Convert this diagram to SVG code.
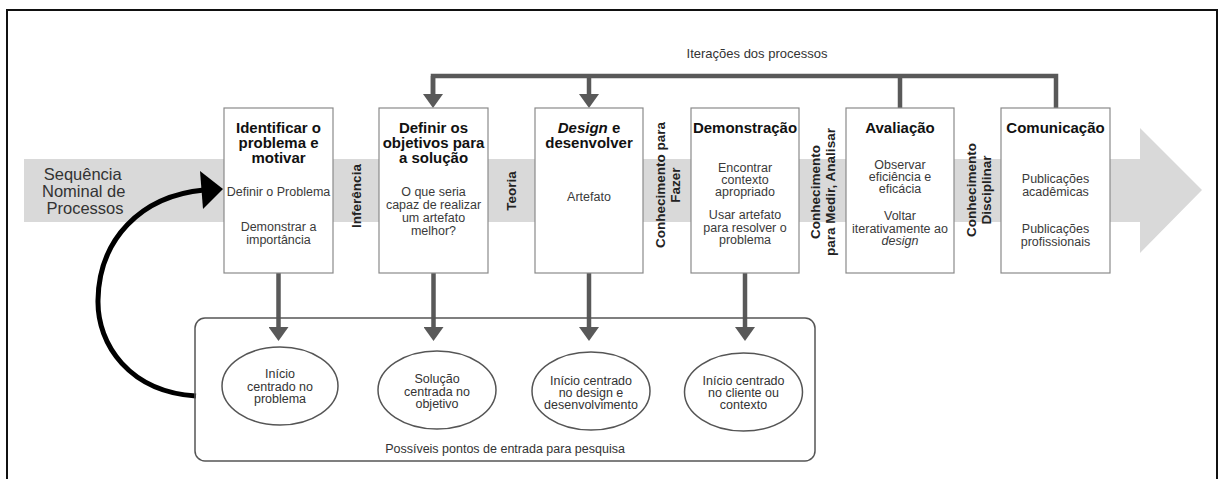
<svg xmlns="http://www.w3.org/2000/svg" width="1219" height="479" viewBox="0 0 1219 479">
  <style>
    text { font-family: "Liberation Sans", Arial, sans-serif; }
    .title { font-size: 15px; font-weight: bold; fill: #111; text-anchor: middle; }
    .body { font-size: 12.5px; fill: #3a3a3a; text-anchor: middle; }
    .side { font-size: 13.5px; font-weight: bold; fill: #222; text-anchor: middle; }
    .oval { font-size: 12.5px; fill: #333; text-anchor: middle; }
    .box { fill: #fff; stroke: #8a8a8a; stroke-width: 1.2; }
    .ell { fill: #fff; stroke: #555; stroke-width: 1.5; }
    .flow { fill: none; stroke: #595959; stroke-width: 4.5; }
  </style>
  <defs>
    <marker id="head" markerUnits="userSpaceOnUse" viewBox="0 0 14 20" refX="2" refY="10" markerWidth="14" markerHeight="20" orient="auto">
      <path d="M0,0 L14,10 L0,20 Z" fill="#595959"/>
    </marker>
  </defs>

  <!-- outer frame -->
  <rect x="7" y="10" width="1210" height="490" fill="none" stroke="#111" stroke-width="2"/>

  <!-- nominal process sequence band -->
  <g id="sequence">
    <path d="M24,159 H1140 V128 L1202,190 L1140,253 V222 H24 Z" fill="#d9d9d9"/>
    <text font-size="16.5" fill="#333" text-anchor="middle">
      <tspan x="85" y="180">Sequência</tspan>
      <tspan x="86" y="197">Nominal de</tspan>
      <tspan x="85" y="214">Processos</tspan>
    </text>
  </g>

  <!-- knowledge labels between activities -->
  <g id="side-labels">
    <text class="side" transform="translate(361,196) rotate(-90)">Inferência</text>
    <text class="side" transform="translate(516,191) rotate(-90)">Teoria</text>
    <text class="side" transform="translate(667,185) rotate(-90)"><tspan x="0" y="-2">Conhecimento para</tspan><tspan x="0" y="13">Fazer</tspan></text>
    <text class="side" transform="translate(822,192) rotate(-90)"><tspan x="0" y="-2">Conhecimento</tspan><tspan x="0" y="13">para Medir, Analisar</tspan></text>
    <text class="side" transform="translate(978,190) rotate(-90)"><tspan x="0" y="-2">Conhecimento</tspan><tspan x="0" y="13">Disciplinar</tspan></text>
  </g>

  <!-- connectors -->
  <g id="connectors">
    <text x="757" y="58" font-size="13" fill="#333" text-anchor="middle">Iterações dos processos</text>
    <path class="flow" d="M433,96 V76 H1056 V108 M900,76 V108"/>
    <path class="flow" d="M433,76 V96" marker-end="url(#head)"/>
    <path class="flow" d="M589,76 V96" marker-end="url(#head)"/>
    <path class="flow" d="M278.5,254 V329" marker-end="url(#head)"/>
    <path class="flow" d="M433.5,254 V329" marker-end="url(#head)"/>
    <path class="flow" d="M589,254 V329" marker-end="url(#head)"/>
    <path class="flow" d="M745,254 V329" marker-end="url(#head)"/>
    <!-- return loop into the first activity -->
    <path d="M196,396 C130,392 97,345 98,300 C99,240 140,196 204,190" fill="none" stroke="#000" stroke-width="5"/>
    <path d="M223,189 L200,171 L203,209 Z" fill="#000"/>
  </g>

  <!-- activities -->
  <g id="identificar">
    <rect class="box" x="224" y="108" width="109" height="165"/>
    <text class="title"><tspan x="278.5" y="133">Identificar o</tspan><tspan x="278.5" y="148">problema e</tspan><tspan x="278.5" y="163">motivar</tspan></text>
    <text class="body"><tspan x="278.5" y="196">Definir o Problema</tspan><tspan x="278.5" y="231">Demonstrar a</tspan><tspan x="278.5" y="244">importância</tspan></text>
  </g>
  <g id="objetivos">
    <rect class="box" x="379" y="108" width="109" height="165"/>
    <text class="title"><tspan x="433.5" y="133">Definir os</tspan><tspan x="433.5" y="148">objetivos para</tspan><tspan x="433.5" y="163">a solução</tspan></text>
    <text class="body"><tspan x="433.5" y="196">O que seria</tspan><tspan x="433.5" y="209">capaz de realizar</tspan><tspan x="433.5" y="222">um artefato</tspan><tspan x="433.5" y="235">melhor?</tspan></text>
  </g>
  <g id="design">
    <rect class="box" x="535" y="108" width="108" height="165"/>
    <text class="title"><tspan x="589" y="133"><tspan font-style="italic">Design</tspan> e</tspan><tspan x="589" y="148">desenvolver</tspan></text>
    <text class="body" x="589" y="201">Artefato</text>
  </g>
  <g id="demonstracao">
    <rect class="box" x="691" y="108" width="108" height="165"/>
    <text class="title" x="745" y="133">Demonstração</text>
    <text class="body"><tspan x="745" y="172">Encontrar</tspan><tspan x="745" y="184">contexto</tspan><tspan x="745" y="196">apropriado</tspan><tspan x="745" y="219">Usar artefato</tspan><tspan x="745" y="232">para resolver o</tspan><tspan x="745" y="244">problema</tspan></text>
  </g>
  <g id="avaliacao">
    <rect class="box" x="846" y="108" width="108" height="165"/>
    <text class="title" x="900" y="133">Avaliação</text>
    <text class="body"><tspan x="900" y="169">Observar</tspan><tspan x="900" y="181">eficiência e</tspan><tspan x="900" y="193">eficácia</tspan><tspan x="900" y="220">Voltar</tspan><tspan x="900" y="233">iterativamente ao</tspan><tspan x="900" y="245" font-style="italic">design</tspan></text>
  </g>
  <g id="comunicacao">
    <rect class="box" x="1001" y="108" width="109" height="165"/>
    <text class="title" x="1055.5" y="133">Comunicação</text>
    <text class="body"><tspan x="1055.5" y="183">Publicações</tspan><tspan x="1055.5" y="196">acadêmicas</tspan><tspan x="1055.5" y="233">Publicações</tspan><tspan x="1055.5" y="246">profissionais</tspan></text>
  </g>

  <!-- research entry points -->
  <g id="entradas">
    <rect x="195" y="318" width="620" height="143" rx="10" fill="none" stroke="#555" stroke-width="1.5"/>
    <text class="oval" x="505" y="453">Possíveis pontos de entrada para pesquisa</text>
  </g>
  <g id="entrada-problema">
    <ellipse class="ell" cx="280" cy="386" rx="58" ry="39"/>
    <text class="oval"><tspan x="280" y="378">Início</tspan><tspan x="280" y="391">centrado no</tspan><tspan x="280" y="403">problema</tspan></text>
  </g>
  <g id="entrada-objetivo">
    <ellipse class="ell" cx="437" cy="390" rx="59" ry="39"/>
    <text class="oval"><tspan x="437" y="383">Solução</tspan><tspan x="437" y="396">centrada no</tspan><tspan x="437" y="408">objetivo</tspan></text>
  </g>
  <g id="entrada-design">
    <ellipse class="ell" cx="591" cy="391" rx="59" ry="39"/>
    <text class="oval"><tspan x="591" y="385">Início centrado</tspan><tspan x="591" y="397">no design e</tspan><tspan x="591" y="409">desenvolvimento</tspan></text>
  </g>
  <g id="entrada-contexto">
    <ellipse class="ell" cx="743.5" cy="392" rx="59" ry="39"/>
    <text class="oval"><tspan x="743.5" y="385">Início centrado</tspan><tspan x="743.5" y="397">no cliente ou</tspan><tspan x="743.5" y="409">contexto</tspan></text>
  </g>
</svg>
